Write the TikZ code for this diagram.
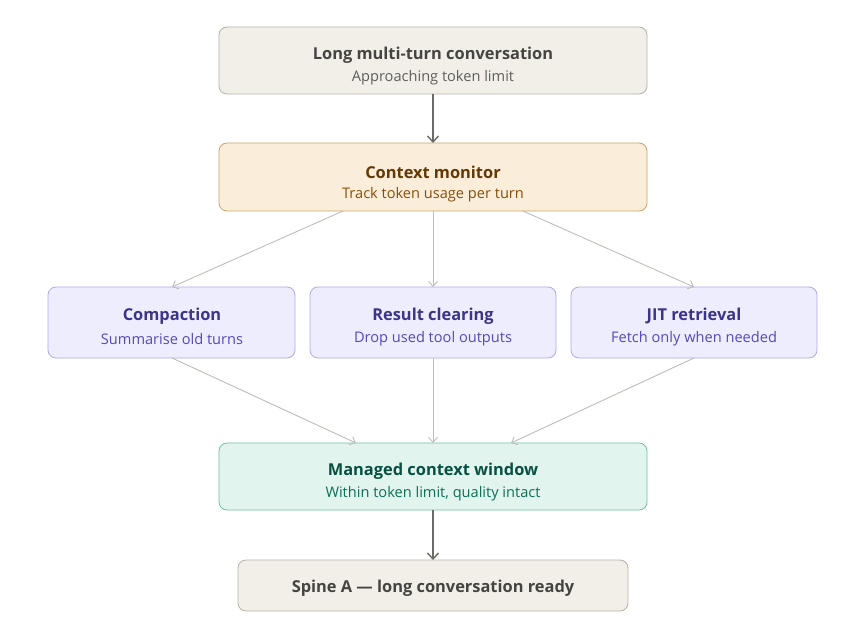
\documentclass[tikz,border=0pt]{standalone}
\usepackage{fontspec}
\setmainfont{Open Sans}
\usetikzlibrary{arrows.meta}
\definecolor{grayfill}{HTML}{F1EFE8}
\definecolor{graydraw}{HTML}{B4B2A9}
\definecolor{graytitle}{HTML}{444441}
\definecolor{graysub}{HTML}{5F5E5A}
\definecolor{ambfill}{HTML}{FAEEDA}
\definecolor{ambdraw}{HTML}{C9A36A}
\definecolor{ambtitle}{HTML}{633806}
\definecolor{ambsub}{HTML}{854F0B}
\definecolor{purfill}{HTML}{EEEDFE}
\definecolor{purdraw}{HTML}{AFA9EC}
\definecolor{purtitle}{HTML}{3C3489}
\definecolor{pursub}{HTML}{534AB7}
\definecolor{grnfill}{HTML}{E1F5EE}
\definecolor{grndraw}{HTML}{6FC2A4}
\definecolor{grntitle}{HTML}{085041}
\definecolor{grnsub}{HTML}{0F6E56}
\definecolor{darkarrow}{HTML}{6B6A66}
\definecolor{lightarrow}{HTML}{BDBCB7}
\tikzset{
  x=1pt,y=-1pt,
  box/.style={draw, rounded corners=8pt, line width=0.8pt, inner sep=0pt},
  graybox/.style={box, fill=grayfill, draw=graydraw},
  ambbox/.style={box, fill=ambfill, draw=ambdraw},
  purbox/.style={box, fill=purfill, draw=purdraw},
  grnbox/.style={box, fill=grnfill, draw=grndraw},
  ttl/.style={font=\fontsize{16.4}{19}\selectfont\bfseries},
  sub/.style={font=\fontsize{14.6}{17}\selectfont},
  main/.style={draw=darkarrow, line width=1.6pt, -{Straight Barb[length=6pt,width=11pt,line width=1.4pt]}},
  thin/.style={draw=lightarrow, line width=0.9pt, -{Straight Barb[length=5pt,width=9pt,line width=0.9pt]}},
}
\begin{document}
\begin{tikzpicture}
\useasboundingbox (0,0) rectangle (864,636);
% boxes
\draw[graybox] (219,27) rectangle (647,94);
\node[ttl, text=graytitle] (t1) at (433,55) {Long multi-turn conversation};
\node[sub, text=graysub] (s1) at (433,78) {Approaching token limit};
\coordinate (top) at (433,94);

\draw[ambbox] (219,143) rectangle (647,211);
\node[ttl, text=ambtitle] (t2) at (433,172) {Context monitor};
\node[sub, text=ambsub] (s2) at (433,195) {Track token usage per turn};
\coordinate (cmT) at (433,143);
\coordinate (cmL) at (343,211);
\coordinate (cmM) at (433,211);
\coordinate (cmR) at (523,211);

\draw[purbox] (48,287) rectangle (295,358);
\node[ttl, text=purtitle] (t3) at (172,316) {Compaction};
\node[sub, text=pursub] (s3) at (172,339) {Summarise old turns};
\coordinate (aT) at (172,287);
\coordinate (aB) at (172,358);

\draw[purbox] (310,287) rectangle (556,358);
\node[ttl, text=purtitle] (t4) at (433,316) {Result clearing};
\node[sub, text=pursub] (s4) at (433,339) {Drop used tool outputs};
\coordinate (bT) at (433,287);
\coordinate (bB) at (433,358);

\draw[purbox] (571,287) rectangle (817,358);
\node[ttl, text=purtitle] (t5) at (694,316) {JIT retrieval};
\node[sub, text=pursub] (s5) at (694,339) {Fetch only when needed};
\coordinate (cT) at (694,287);
\coordinate (cB) at (694,358);

\draw[grnbox] (219,443) rectangle (647,510);
\node[ttl, text=grntitle] (t6) at (433,471) {Managed context window};
\node[sub, text=grnsub] (s6) at (433,494) {Within token limit, quality intact};
\coordinate (mL) at (356,443);
\coordinate (mM) at (433,443);
\coordinate (mR) at (511,443);
\coordinate (mB) at (433,510);

\draw[graybox] (238,560) rectangle (628,611);
\node[ttl, text=graytitle] (t7) at (433,588) {Spine A — long conversation ready};
\coordinate (spT) at (433,560);

% connectors
\draw[main] (top) -- (cmT);
\draw[thin] (cmL) -- (aT);
\draw[thin] (cmM) -- (bT);
\draw[thin] (cmR) -- (cT);
\draw[thin] (aB) -- (mL);
\draw[thin] (bB) -- (mM);
\draw[thin] (cB) -- (mR);
\draw[main] (mB) -- (spT);
\end{tikzpicture}
\end{document}
